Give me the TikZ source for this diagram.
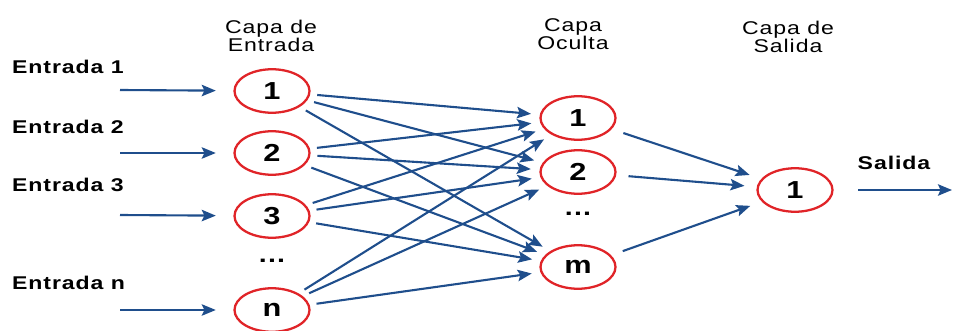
\documentclass[tikz,border=0pt]{standalone}
\usepackage{fontspec}
\setmainfont{Liberation Sans}
\newfontfamily\netfont[FakeStretch=1.25, LetterSpace=5]{Liberation Sans}
\usetikzlibrary{arrows.meta, shapes.geometric}

\definecolor{netblue}{RGB}{31,78,140}
\definecolor{netred}{RGB}{224,36,40}

\begin{document}
\begin{tikzpicture}[
    x=0.02cm, y=-0.02cm,
    neuron/.style={ellipse, draw=netred, line width=1.3pt, minimum width=1.5cm, minimum height=0.87cm, inner sep=0pt, font=\netfont\fontsize{14}{16}\selectfont\bfseries},
    layer/.style={align=center, font=\netfont\fontsize{10.5}{10.5}\selectfont},
    inlabel/.style={anchor=west, font=\netfont\fontsize{10.5}{12}\selectfont\bfseries},
    dots/.style={font=\netfont\fontsize{13}{14}\selectfont\bfseries},
    link/.style={-{Stealth[length=8pt, width=6.5pt, inset=1.5pt]}, draw=netblue, line width=1.2pt, shorten <=4pt, shorten >=5pt}
]
    \useasboundingbox (0,0) rectangle (953,331);

    % --- Encabezados ---
    \node[layer] (hin) at (271,36) {Capa de\\Entrada};
    \node[layer] (hhid) at (573,34) {Capa\\Oculta};
    \node[layer] (hout) at (788,37) {Capa de\\Salida};

    % --- Entradas ---
    \node[inlabel] (lab1) at (6,67) {Entrada 1};
    \node[inlabel] (lab2) at (6,127) {Entrada 2};
    \node[inlabel] (lab3) at (6,185) {Entrada 3};
    \node[inlabel] (labn) at (6,283) {Entrada n};

    \coordinate (x1) at (120,90);
    \coordinate (x2) at (120,153);
    \coordinate (x3) at (120,215);
    \coordinate (xn) at (120,310);

    % --- Capa de entrada ---
    \node[neuron] (in1) at (272,91) {1};
    \node[neuron] (in2) at (272,153) {2};
    \node[neuron] (in3) at (272,216) {3};
    \node[dots] (indots) at (272,261) {...};
    \node[neuron] (inn) at (272,310) {n};

    % --- Capa oculta ---
    \node[neuron] (hid1) at (578,118) {1};
    \node[neuron] (hid2) at (578,172) {2};
    \node[dots] (hiddots) at (578,214) {...};
    \node[neuron] (hidm) at (578,267) {m};

    % --- Capa de salida ---
    \node[neuron] (out1) at (795,190) {1};
    \node[inlabel, anchor=center] (sal) at (894,163) {Salida};
    \coordinate (y1) at (952,190);

    % entradas -> capa de entrada
    \draw[link, shorten <=0pt, shorten >=10pt] (x1) -- (in1);
    \draw[link, shorten <=0pt, shorten >=10pt] (x2) -- (in2);
    \draw[link, shorten <=0pt, shorten >=10pt] (x3) -- (in3);
    \draw[link, shorten <=0pt, shorten >=10pt] (xn) -- (inn);

    % capa de entrada -> capa oculta
    \draw[link] (in1) -- (hid1);
    \draw[link] (in1) -- (hid2);
    \draw[link] (in1) -- (hidm);
    \draw[link] (in2) -- (hid1);
    \draw[link] (in2) -- (hid2);
    \draw[link] (in2) -- (hidm);
    \draw[link] (in3) -- (hid1);
    \draw[link] (in3) -- (hid2);
    \draw[link] (in3) -- (hidm);
    \draw[link] (inn) -- (hid1);
    \draw[link] (inn) -- (hid2);
    \draw[link] (inn) -- (hidm);

    % capa oculta -> salida
    \draw[link, shorten <=7pt, shorten >=7pt] (hid1) -- (out1);
    \draw[link, shorten <=7pt, shorten >=7pt] (hid2) -- (out1);
    \draw[link, shorten <=7pt, shorten >=7pt] (hidm) -- (out1);
    \draw[link, shorten <=14pt, shorten >=0pt] (out1) -- (y1);

\end{tikzpicture}
\end{document}
